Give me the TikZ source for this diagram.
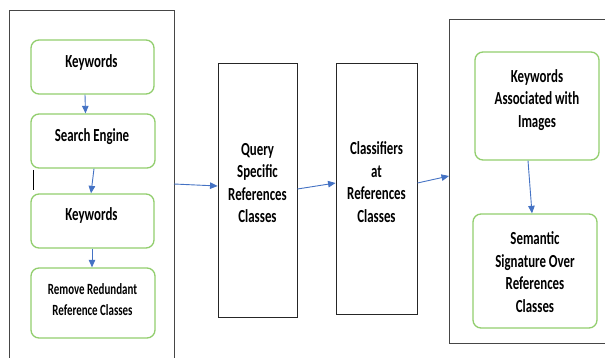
\documentclass[tikz,border=0pt]{standalone}
\usepackage{fontspec}
\setmainfont{Carlito}
\newfontfamily\tallfont{Carlito}[FakeStretch=0.70]
\usetikzlibrary{arrows.meta}
\definecolor{boxgreen}{RGB}{146,206,110}
\definecolor{arrowblue}{RGB}{68,114,196}
\definecolor{framegray}{RGB}{70,70,70}
\tikzset{
  gbox/.style={draw=boxgreen, line width=1.3pt, rounded corners=8pt, inner sep=0pt},
  bbox/.style={draw=black!85, line width=0.9pt, inner sep=0pt},
  frameline/.style={draw=framegray, line width=1pt},
  txt/.style={font=\tallfont\bfseries\fontsize{18.4}{22.5}\selectfont, align=center, inner sep=0pt},
  txtsmall/.style={font=\tallfont\bfseries\fontsize{15.6}{21.7}\selectfont, align=center, inner sep=0pt},
  conn/.style={draw=arrowblue, line width=0.9pt, -{Triangle[length=7.5pt,width=6.5pt]}}
}
\begin{document}
\begin{tikzpicture}[x=1pt,y=-1pt]
\clip (0,0) rectangle (605,358);
\fill[white] (0,0) rectangle (605,358);
% outer frames
\draw[frameline] (9,365) -- (9,11) -- (174,11) -- (174,365);
\draw[frameline] (612,20) -- (449,20) -- (449,343) -- (612,343);
\coordinate (lbE) at (174,184);
\coordinate (rbW) at (449,176);
% stray mark
\coordinate (m1) at (33,170);
\coordinate (m2) at (33,190);
\draw[black, line width=0.8pt] (m1) -- (m2);
% left boxes
\node[gbox, minimum width=123pt, minimum height=54pt] (k1) at (92.5,67) {};
\node[gbox, minimum width=124pt, minimum height=54pt] (se) at (93,141) {};
\node[gbox, minimum width=123pt, minimum height=54pt] (k2) at (92.5,221) {};
\node[gbox, minimum width=124pt, minimum height=70pt] (rr) at (93,303) {};
\node[txt] (k1t) at (91.5,62.5) {Keywords};
\node[txt] (set) at (92,136.5) {Search Engine};
\node[txt] (k2t) at (91.5,215.5) {Keywords};
\node[txtsmall] (rrt) at (92.5,299.5) {Remove Redundant\\Reference Classes};
% middle boxes
\node[bbox, minimum width=79pt, minimum height=254pt] (q) at (257.5,190) {};
\node[bbox, minimum width=81pt, minimum height=251pt] (c) at (376.5,188.5) {};
\node[txt] (qt) at (257.5,183) {Query\\Specific\\References\\Classes};
\node[txt] (ct) at (376.5,182) {Classifiers\\at\\References\\Classes};
% right boxes
\node[gbox, minimum width=124pt, minimum height=108pt] (ka) at (537,106) {};
\node[gbox, minimum width=124pt, minimum height=114pt] (ss) at (535,271) {};
\node[txt] (kat) at (537,100) {Keywords\\Associated with\\Images};
\node[txt] (sst) at (535,272) {Semantic\\Signature Over\\References\\Classes};
% connectors
\draw[conn] ([xshift=-7.5pt]k1.south) -- ([xshift=-7.5pt]se.north);
\draw[conn] ([xshift=1pt]se.south) -- ([xshift=-1.5pt]k2.north);
\draw[conn] ([xshift=-0.5pt]k2.south) -- ([xshift=-1pt]rr.north);
\draw[conn] (lbE) -- ([yshift=4pt]q.west);
\draw[conn] ([yshift=1pt]q.east) -- ([yshift=5.5pt]c.west);
\draw[conn] ([yshift=5.5pt]c.east) -- (rbW);
\draw[conn] ([xshift=-9pt]ka.south) -- ([xshift=-3pt]ss.north);
\end{tikzpicture}
\end{document}
